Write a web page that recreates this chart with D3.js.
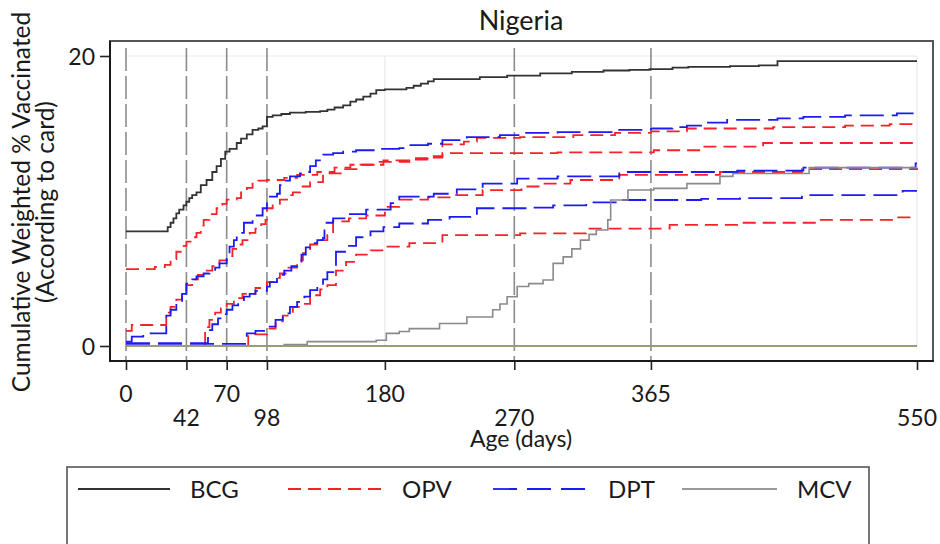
<!DOCTYPE html>
<html><head><meta charset="utf-8">
<script src="https://cdn.jsdelivr.net/npm/d3@7"></script>
<style>
body{margin:0;background:#fff}
svg{display:block}
text{font-family:Lato,"Open Sans","DejaVu Sans",sans-serif;fill:#1a1a1a}
</style>
</head><body>
<svg id="chart" width="940" height="544"></svg>
<script>
const chartTitle = "Nigeria";
const yTitleLine1 = "Cumulative Weighted % Vaccinated";
const yTitleLine2 = "(According to card)";
const xTitle = "Age (days)";
const xTicksUpper = [0, 70, 180, 365];
const xTicksLower = [42, 98, 270, 550];
const yTicks = [0, 20];
const refDays = [0, 42, 70, 98, 270, 365];
const gridDays = [180, 550];
const legendNames = ["BCG", "OPV", "DPT", "MCV"];

const bcg = [[0,7.9],[27,7.9],[29,8.2],[31,8.5],[33,8.8],[35,9.15],[37,9.4],[40,9.7],[42,9.95],[44,10.2],[46,10.4],[49,10.6],[52,11.1],[56,11.45],[60,12.0],[63,12.4],[66,12.9],[69,13.4],[72,13.6],[77,14.0],[80,14.3],[84,14.6],[88,14.9],[92,15.0],[95,15.15],[98,15.8],[102,15.9],[108,16.0],[114,16.1],[125,16.15],[135,16.2],[140,16.3],[145,16.45],[151,16.6],[156,16.85],[160,17.0],[165,17.2],[170,17.4],[174,17.65],[180,17.7],[195,17.8],[200,17.95],[205,18.1],[210,18.25],[214,18.4],[239,18.4],[246,18.55],[265,18.65],[288,18.8],[310,18.9],[332,19.0],[350,19.05],[364,19.1],[380,19.2],[391,19.25],[420,19.3],[440,19.35],[453,19.65],[550,19.65]];

const opv0 = [[0,5.3],[20,5.45],[27,5.6],[31,6.0],[35,6.5],[39,6.9],[42,7.2],[46,7.5],[49,7.8],[52,8.3],[54,8.7],[58,9.1],[63,9.5],[67,9.8],[70,10.1],[77,10.2],[80,10.6],[84,10.9],[88,11.2],[91,11.4],[98,11.45],[110,11.6],[119,11.8],[133,12.0],[145,12.3],[156,12.5],[174,12.7],[197,12.95],[210,13.1],[220,13.3],[300,13.35],[367,13.5],[401,13.75],[443,14.0],[550,14.0]];
const opv1 = [[0,1.05],[4,1.45],[27,1.45],[28,2.3],[31,2.7],[35,3.2],[39,3.7],[42,4.2],[46,4.6],[50,4.9],[55,5.2],[60,5.5],[65,5.9],[70,6.2],[74,6.7],[78,7.0],[81,7.3],[86,7.8],[90,8.1],[94,8.4],[97,8.7],[98,9.5],[102,9.8],[107,10.1],[112,10.4],[116,10.6],[121,11.0],[128,11.3],[137,11.9],[150,12.2],[163,12.5],[179,12.8],[197,12.85],[214,13.0],[220,13.9],[235,14.1],[244,14.35],[274,14.4],[311,14.55],[340,14.7],[365,14.8],[390,15.0],[450,15.1],[500,15.2],[531,15.3],[550,15.3]];
const opv2 = [[0,0],[54,0],[55,1.3],[58,1.8],[62,2.3],[66,2.6],[70,2.9],[75,3.3],[81,3.6],[90,4.0],[98,4.4],[103,4.7],[107,5.0],[113,5.4],[119,5.9],[123,6.4],[128,7.0],[133,7.3],[140,7.65],[144,8.6],[155,8.8],[167,9.0],[180,9.6],[190,10.1],[210,10.25],[225,10.4],[248,10.75],[275,11.0],[290,11.2],[309,11.45],[343,11.8],[413,12.0],[470,12.2],[550,12.3]];
const opv3 = [[0,0],[84,0],[85,0.8],[98,1.2],[104,1.7],[109,2.1],[116,2.7],[121,2.9],[128,3.5],[135,3.9],[140,4.2],[146,5.2],[153,5.8],[160,6.3],[170,6.6],[179,6.85],[197,7.1],[220,7.65],[274,7.77],[320,8.1],[378,8.35],[427,8.5],[480,8.7],[536,8.87],[550,8.9]];

const dpt1 = [[0,0.3],[4,0.64],[12,0.87],[27,0.87],[28,2.1],[31,2.5],[35,3.05],[39,3.6],[42,4.3],[46,4.6],[49,4.8],[54,5.0],[58,5.1],[62,5.4],[65,5.7],[70,6.15],[72,6.85],[75,7.3],[77,7.8],[82,8.5],[88,9.0],[95,9.5],[98,10.3],[105,10.5],[107,11.1],[110,11.4],[114,11.7],[121,11.9],[125,12.0],[128,12.4],[132,12.8],[137,13.2],[144,13.3],[151,13.4],[160,13.5],[174,13.6],[190,13.65],[197,13.85],[210,13.95],[220,14.2],[237,14.4],[260,14.55],[274,14.7],[300,14.75],[339,14.9],[365,15.0],[380,15.1],[390,15.2],[401,15.4],[418,15.6],[453,15.7],[471,15.8],[500,15.9],[536,16.05],[548,16.15],[550,16.15]];
const dpt2 = [[0,0.2],[56,0.2],[57,1.1],[60,1.5],[64,1.9],[67,2.2],[70,2.5],[74,2.8],[78,3.1],[82,3.4],[86,3.6],[90,3.8],[98,4.1],[100,4.4],[105,4.9],[110,5.2],[115,5.5],[119,5.7],[122,6.3],[125,6.8],[128,7.1],[133,7.3],[137,7.45],[138,8.5],[144,8.8],[155,9.1],[167,9.4],[184,9.85],[190,10.3],[214,10.5],[230,10.8],[248,11.2],[272,11.55],[300,11.7],[343,12.0],[425,12.1],[471,12.3],[548,12.3],[549,12.6],[550,12.6]];
const dpt3 = [[0,0.15],[83,0.15],[84,0.87],[90,1.05],[98,1.33],[104,1.8],[109,2.25],[114,2.7],[119,3.05],[124,3.4],[128,3.86],[133,4.2],[137,4.6],[140,5.1],[146,6.5],[153,6.9],[160,7.5],[170,7.9],[179,8.2],[190,8.45],[210,8.7],[225,8.9],[244,9.5],[281,9.55],[297,9.7],[320,9.9],[343,10.07],[400,10.15],[427,10.2],[470,10.4],[540,10.7],[550,10.7]];

const mcv = [[0,0],[100,0],[110,0.1],[126,0.3],[174,0.4],[181,0.87],[190,1.0],[197,1.2],[218,1.55],[237,2.0],[255,2.5],[260,2.9],[265,3.4],[272,4.1],[280,4.3],[290,4.55],[297,5.7],[304,6.15],[310,6.7],[316,7.3],[322,7.7],[327,8.0],[335,8.7],[337,10.07],[348,10.07],[349,10.76],[367,10.87],[390,11.2],[413,11.7],[422,11.9],[473,11.9],[475,12.3],[550,12.3]];
const baseline = [[0,0],[550,0]];

const svg = d3.select("#chart");
const frame = {left:110, top:41, right:933, bottom:361};
const x = d3.scaleLinear().domain([0,550]).range([126,917]);
const y = d3.scaleLinear().domain([0,20]).range([346,56]);

// light grid
const g = svg.append("g");
g.selectAll("line.gy").data(yTicks).join("line")
  .attr("x1", x(0)).attr("x2", x(550)).attr("y1", d=>y(d)).attr("y2", d=>y(d))
  .attr("stroke","#e9e9e9").attr("stroke-width",1.2);
g.selectAll("line.gx").data(gridDays).join("line")
  .attr("x1", d=>x(d)).attr("x2", d=>x(d)).attr("y1", y(20)).attr("y2", y(0))
  .attr("stroke","#e9e9e9").attr("stroke-width",1.2);

// reference dashed lines
g.selectAll("line.ref").data(refDays).join("line")
  .attr("x1", d=>x(d)).attr("x2", d=>x(d)).attr("y1", frame.top+7).attr("y2", frame.bottom)
  .attr("stroke","#8c8c8c").attr("stroke-width",1.6).attr("stroke-dasharray","23,5");

const line = d3.line().x(d=>x(d[0])).y(d=>y(d[1])).curve(d3.curveStepAfter);
const series = [
  {data:bcg, color:"#333333", dash:null, w:1.8},
  {data:opv0, color:"#f5222a", dash:"13,7", w:1.8},
  {data:opv1, color:"#f5222a", dash:"13,7", w:1.8},
  {data:opv2, color:"#f5222a", dash:"13,7", w:1.8},
  {data:opv3, color:"#f5222a", dash:"13,7", w:1.8},
  {data:dpt1, color:"#1c1cf0", dash:"24,8", w:1.8},
  {data:dpt2, color:"#1c1cf0", dash:"24,8", w:1.8},
  {data:dpt3, color:"#1c1cf0", dash:"24,8", w:1.8},
  {data:mcv, color:"#8a8a8a", dash:null, w:1.6},
  {data:baseline, color:"#9a9c78", dash:null, w:1.8}
];
svg.append("g").selectAll("path").data(series).join("path")
  .attr("d", d=>line(d.data)).attr("fill","none")
  .attr("stroke", d=>d.color).attr("stroke-width", d=>d.w)
  .attr("stroke-dasharray", d=>d.dash);

// frame
svg.append("rect").attr("x",frame.left).attr("y",frame.top)
  .attr("width",frame.right-frame.left).attr("height",frame.bottom-frame.top)
  .attr("fill","none").attr("stroke","#555").attr("stroke-width",2);
svg.append("line").attr("x1",frame.left).attr("x2",frame.left).attr("y1",frame.top).attr("y2",frame.bottom+1)
  .attr("stroke","#1a1a1a").attr("stroke-width",2);
svg.append("line").attr("x1",frame.left-1).attr("x2",frame.right+1).attr("y1",frame.bottom).attr("y2",frame.bottom)
  .attr("stroke","#1a1a1a").attr("stroke-width",2);

// x axis ticks via d3 axis
const allX = xTicksUpper.concat(xTicksLower).sort((a,b)=>a-b);
const xAxis = svg.append("g").attr("transform",`translate(0,${frame.bottom})`)
  .call(d3.axisBottom(x).tickValues(allX).tickSize(9).tickFormat(""));
xAxis.select(".domain").remove();
xAxis.selectAll(".tick line").attr("stroke","#222").attr("stroke-width",1.6);
svg.append("g").selectAll("text").data(xTicksUpper).join("text")
  .attr("x", d=>x(d)).attr("y", 402).attr("text-anchor","middle")
  .style("font-size","23px").text(d=>d);
svg.append("g").selectAll("text").data(xTicksLower).join("text")
  .attr("x", d=>x(d)).attr("y", 426).attr("text-anchor","middle")
  .style("font-size","23px").text(d=>d);

const yAxis = svg.append("g").attr("transform",`translate(${frame.left},0)`)
  .call(d3.axisLeft(y).tickValues(yTicks).tickSize(10).tickPadding(5));
yAxis.select(".domain").remove();
yAxis.selectAll(".tick line").attr("stroke","#222").attr("stroke-width",1.6);
yAxis.selectAll(".tick text").style("font-size","23px").style("font-family","Lato").attr("fill","#1a1a1a").attr("dy","0.36em");

// titles
svg.append("text").attr("x",521).attr("y",30).attr("text-anchor","middle")
  .style("font-size","27px").text(chartTitle);
svg.append("text").attr("x",521).attr("y",447).attr("text-anchor","middle")
  .style("font-size","23px").text(xTitle);
svg.append("text").attr("transform","translate(30,202) rotate(-90)").attr("text-anchor","middle")
  .style("font-size","24.5px").text(yTitleLine1);
svg.append("text").attr("transform","translate(54,202) rotate(-90)").attr("text-anchor","middle")
  .style("font-size","24.5px").text(yTitleLine2);

// legend
svg.append("rect").attr("x",67).attr("y",467).attr("width",802).attr("height",120)
  .attr("fill","none").attr("stroke","#555").attr("stroke-width",1.6);
const legendItems = [
  {name:legendNames[0], x1:78, x2:170, tx:190, color:"#333333", dash:null},
  {name:legendNames[1], x1:288, x2:382, tx:402, color:"#f5222a", dash:"13,7"},
  {name:legendNames[2], x1:493, x2:587, tx:608, color:"#1c1cf0", dash:"24,10"},
  {name:legendNames[3], x1:682, x2:777, tx:797, color:"#9a9a9a", dash:null}
];
const lg = svg.append("g");
lg.selectAll("line").data(legendItems).join("line")
  .attr("x1",d=>d.x1).attr("x2",d=>d.x2).attr("y1",489).attr("y2",489)
  .attr("stroke",d=>d.color).attr("stroke-width",1.8).attr("stroke-dasharray",d=>d.dash);
lg.selectAll("text").data(legendItems).join("text")
  .attr("x",d=>d.tx).attr("y",498).style("font-size","24px").text(d=>d.name);
</script>
</body></html>
